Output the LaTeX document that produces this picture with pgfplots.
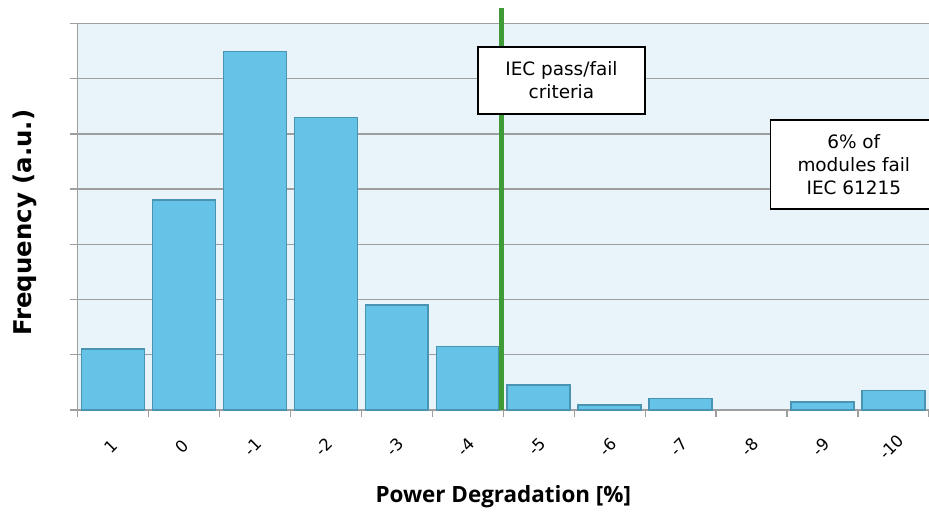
\documentclass[border=0pt]{standalone}
\usepackage{pgfplots}
\pgfplotsset{compat=1.18}
\usepackage{fontspec}
\setmainfont{DejaVu Sans}
\newfontfamily\opensans{Open Sans}
\definecolor{bgblue}{HTML}{E9F3FA}
\definecolor{barfill}{HTML}{66C3E8}
\definecolor{baredge}{HTML}{4894B2}
\definecolor{gridgray}{HTML}{9E9E9E}
\definecolor{critgreen}{HTML}{3E9B35}
\begin{document}
\begin{tikzpicture}
\useasboundingbox (-77.5bp,-105bp) rectangle (851.5bp,410bp);
\begin{axis}[
  at={(0,0)}, anchor=south west,
  scale only axis,
  width=851.5bp, height=386.5bp,
  xmin=-0.5, xmax=11.5,
  ymin=0, ymax=7,
  clip=false,
  axis x line=bottom, axis y line=left,
  axis line style={gridgray, line width=1.3bp, -},
  axis background/.style={fill=bgblue},
  ymajorgrids,
  grid style={gridgray, line width=1.3bp},
  ytick={0,1,2,3,4,5,6,7},
  yticklabels={},
  xtick={0,...,11},
  xticklabels={1,0,-1,-2,-3,-4,-5,-6,-7,-8,-9,-10},
  minor xtick={-0.5,0.5,...,11.5},
  major x tick style={draw=none},
  minor x tick style={gridgray, line width=1.3bp},
  y tick style={gridgray, line width=1.3bp},
  tick align=outside,
  major tick length=7bp, minor tick length=7bp,
  xticklabel style={font=\fontsize{16.5}{19}\selectfont, anchor=center, yshift=-30bp, xshift=-2bp, rotate=45},
  every axis x label/.style={at={(axis description cs:0.5,0)}, anchor=center, yshift=-87bp, font=\opensans\bfseries\fontsize{22.5}{26}\selectfont},
  every axis y label/.style={at={(axis description cs:0,0.5)}, anchor=center, xshift=-53bp, yshift=-6bp, rotate=90, font=\bfseries\fontsize{24.5}{28}\selectfont},
  xlabel={Power Degradation [\%]},
  ylabel={Frequency (a.u.)},
]
\addplot[ybar, bar width=0.887, fill=barfill, draw=baredge, line width=1.6bp]
  coordinates {(0,1.10) (1,3.80) (2,6.49) (3,5.30) (4,1.90) (5,1.15) (6,0.45) (7,0.09) (8,0.21) (10,0.15) (11,0.35)};
\addplot[critgreen, line width=5bp] coordinates {(5.47,0) (5.47,7.28)};
\node[draw=black, line width=1.5bp, fill=white, minimum width=167bp, minimum height=67bp, align=center, font=\fontsize{18.5}{23}\selectfont]
  at (axis cs:6.32,5.97) {IEC pass/fail\\criteria};
\node[draw=black, line width=1.5bp, fill=white, minimum width=167bp, minimum height=89bp, align=center, font=\fontsize{18.5}{23}\selectfont]
  at (axis cs:10.44,4.45) {6\% of\\modules fail\\IEC 61215};
\end{axis}
\end{tikzpicture}
\end{document}
